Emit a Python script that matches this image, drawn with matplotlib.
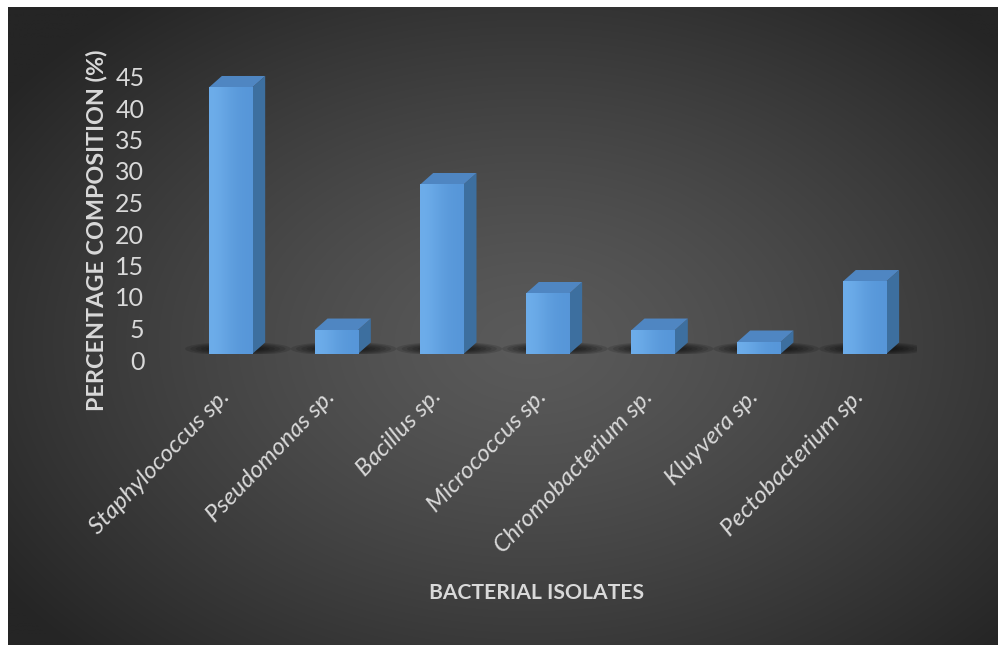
import matplotlib
matplotlib.use("Agg")
import matplotlib.pyplot as plt
import matplotlib.transforms as mtransforms
from matplotlib.patches import Polygon, Ellipse
import numpy as np

isolates = ["Staphylococcus sp.", "Pseudomonas sp.", "Bacillus sp.", "Micrococcus sp.",
            "Chromobacterium sp.", "Kluyvera sp.", "Pectobacterium sp."]
percent = [42.3, 3.8, 26.9, 9.6, 3.8, 1.9, 11.5]
yticks = [0, 5, 10, 15, 20, 25, 30, 35, 40, 45]

W, H = 998, 645
fig = plt.figure(figsize=(W / 100, H / 100), dpi=100, facecolor="white")

# dark radial background
bg = fig.add_axes([8 / W, -0.01, 1.0, 638 / H + 0.01])
bg.set_axis_off()
yy, xx = np.mgrid[0:650, 0:995]
r = np.sqrt(((xx - 520) / 640.0) ** 2 + ((yy - 340) / 440.0) ** 2)
r = np.clip(r, 0, 1)
c_in = np.array([0x5a, 0x5a, 0x5a]) / 255
c_out = np.array([0x25, 0x25, 0x25]) / 255
img = c_in + (c_out - c_in) * (r[..., None] ** 1.3)
bg.imshow(img, aspect="auto", extent=[0, 1, 0, 1])
bg.set_xlim(0, 1)
bg.set_ylim(0, 1)

ax = fig.add_axes([177.7 / W, 1 - 354 / H, 739.6 / W, 46 * 6.3 / H])
ax.set_facecolor("none")
for s in ax.spines.values():
    s.set_visible(False)

w = 0.41
dx, dy = 0.123, 1.83
front_grad = np.array([[[0.43, 0.68, 0.92], [0.37, 0.62, 0.87], [0.34, 0.59, 0.85]]])

for i, v in enumerate(percent):
    x0, x1 = i - w / 2, i + w / 2
    # soft shadow on the floor
    for k in range(6):
        ax.add_patch(Ellipse((i + 0.07, dy * 0.45), 1.0 - k * 0.1, 2.2 - k * 0.28,
                             facecolor="black", edgecolor="none", alpha=0.13, zorder=2))
    ax.add_patch(Polygon([(x1, 0), (x1 + dx, dy), (x1 + dx, v + dy), (x1, v)],
                         closed=True, facecolor="#3d6f9f", edgecolor="none", zorder=3))
    ax.add_patch(Polygon([(x0, v), (x1, v), (x1 + dx, v + dy), (x0 + dx, v + dy)],
                         closed=True, facecolor="#4f86c2", edgecolor="none", zorder=3))
    ax.imshow(front_grad, aspect="auto", extent=[x0, x1, 0, v], zorder=4,
              interpolation="bicubic")

ax.set_xlim(-0.5, 6.5)
ax.set_ylim(0, 46)

ax.set_yticks(yticks)
ax.set_yticklabels([str(t) for t in yticks], fontsize=18, color="#d9d9d9", family="Lato")
ax.tick_params(axis="y", length=0, pad=24)
off = mtransforms.ScaledTranslation(0, -6 / 100, fig.dpi_scale_trans)
for lab in ax.get_yticklabels():
    lab.set_transform(lab.get_transform() + off)

ax.set_xticks(range(len(isolates)))
ax.set_xticklabels(isolates, rotation=46, ha="right", va="top", rotation_mode="anchor",
                   fontsize=17.5, style="italic", color="#d9d9d9", family="Lato")
ax.tick_params(axis="x", length=0, pad=23)
offx = mtransforms.ScaledTranslation(-12 / 100, 0, fig.dpi_scale_trans)
for lab in ax.get_xticklabels():
    lab.set_transform(lab.get_transform() + offx)

fig.text(97 / W, 1 - 230 / H, "PERCENTAGE COMPOSITION (%)", rotation=90, ha="center",
         va="center", fontsize=16.8, fontweight="bold", color="#d9d9d9", family="Lato")
fig.text(537 / W, 1 - 593 / H, "BACTERIAL ISOLATES", ha="center", va="center",
         fontsize=15.2, fontweight="bold", color="#d9d9d9", family="Lato")

fig.savefig("out.png", dpi=100, facecolor="white")
